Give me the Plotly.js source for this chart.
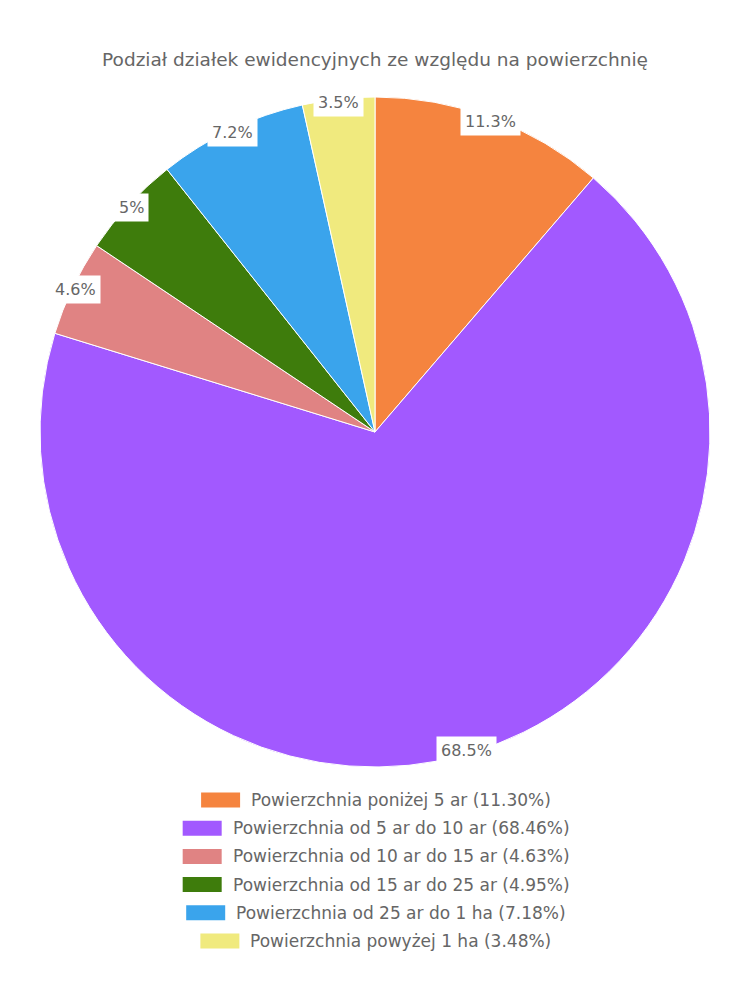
<!DOCTYPE html>
<html>
<head>
<meta charset="utf-8">
<script src="https://cdn.plot.ly/plotly-3.0.1.min.js"></script>
<style>html,body{margin:0;padding:0;background:#fff}#chart{width:750px;height:1000px}</style>
</head>
<body>
<div id="chart"></div>
<script>
const titleText = "Podział działek ewidencyjnych ze względu na powierzchnię";
const categories = [
  "Powierzchnia poniżej 5 ar",
  "Powierzchnia od 5 ar do 10 ar",
  "Powierzchnia od 10 ar do 15 ar",
  "Powierzchnia od 15 ar do 25 ar",
  "Powierzchnia od 25 ar do 1 ha",
  "Powierzchnia powyżej 1 ha"
];
const values = [11.30, 68.46, 4.63, 4.95, 7.18, 3.48];
const colors = ["#F5843F", "#A259FF", "#E08383", "#3E7C0C", "#3AA4EC", "#F0EA7E"];

const W = 750, H = 1000;
const cx = 375, cy = 432, R = 335;
const FONT = "'DejaVu Sans', sans-serif";
const TXT = "#666666";

const total = values.reduce((a, b) => a + b, 0);
const annotations = [];
const shapes = [];

let acc = 0;
values.forEach((v, i) => {
  const mid = (acc + v / 2) / total * 2 * Math.PI;
  acc += v;
  const r = R * 0.99;
  const px = cx + r * Math.sin(mid);
  const py = cy - r * Math.cos(mid);
  annotations.push({
    xref: "paper", yref: "paper",
    x: px / W, y: 1 - py / H,
    xanchor: "center", yanchor: "middle",
    text: Number(((v / total) * 100).toFixed(1)) + "%",
    showarrow: false,
    bgcolor: "#ffffff",
    borderpad: 4,
    font: {family: FONT, size: 16, color: TXT}
  });
});

const ctx = document.createElement("canvas").getContext("2d");
const legFont = 17;
ctx.font = legFont + "px 'DejaVu Sans'";
const boxW = 39, boxH = 15, gap = 9, rowY0 = 800, rowStep = 28.2;
categories.forEach((c, i) => {
  const label = c + " (" + values[i].toFixed(2) + "%)";
  const tw = ctx.measureText(label).width;
  const totalW = boxW + gap + tw;
  const x0 = cx - totalW / 2;
  const y = rowY0 + i * rowStep;
  shapes.push({
    type: "rect", xref: "paper", yref: "paper",
    x0: x0 / W, x1: (x0 + boxW) / W,
    y0: 1 - (y - boxH / 2) / H, y1: 1 - (y + boxH / 2) / H,
    fillcolor: colors[i], line: {width: 0}
  });
  annotations.push({
    xref: "paper", yref: "paper",
    x: (x0 + boxW + gap) / W, y: 1 - y / H,
    xanchor: "left", yanchor: "middle",
    text: label, showarrow: false,
    font: {family: FONT, size: legFont, color: TXT}
  });
});

const data = [{
  type: "pie",
  labels: categories,
  values: values,
  sort: false,
  direction: "clockwise",
  rotation: 0,
  marker: {colors: colors, line: {color: "#ffffff", width: 1}},
  textinfo: "none",
  hoverinfo: "label+percent",
  domain: {x: [(cx - R) / W, (cx + R) / W], y: [1 - (cy + R) / H, 1 - (cy - R) / H]}
}];

const layout = {
  width: W, height: H,
  margin: {l: 0, r: 0, t: 0, b: 0},
  paper_bgcolor: "#ffffff",
  showlegend: false,
  title: {
    text: titleText,
    x: 0.5, xanchor: "center",
    y: 1 - 60 / H, yanchor: "middle",
    font: {family: FONT, size: 18.5, color: TXT}
  },
  annotations: annotations,
  shapes: shapes
};

Plotly.newPlot("chart", data, layout, {displayModeBar: false, staticPlot: true});
</script>
</body>
</html>
